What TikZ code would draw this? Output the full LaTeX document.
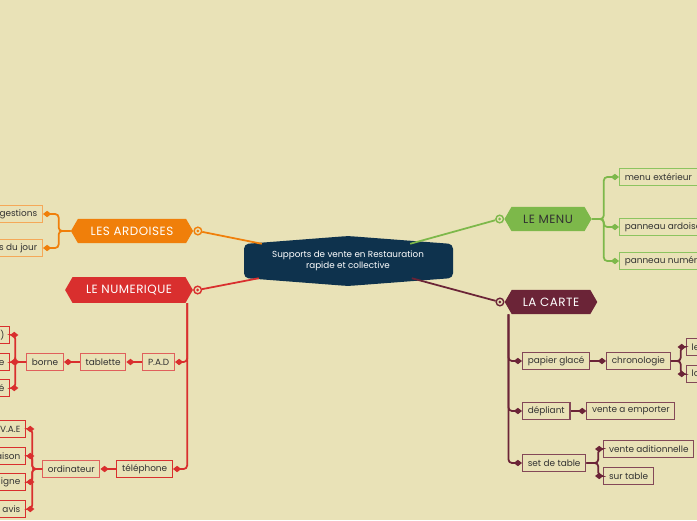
\documentclass[tikz,border=0pt]{standalone}
\usepackage{fontspec}
\setmainfont{Poppins}
\usetikzlibrary{positioning,arrows.meta,shapes.symbols,calc}

\definecolor{paper}{RGB}{233,226,183}
\definecolor{ink}{RGB}{50,50,50}
\definecolor{navy}{RGB}{14,50,77}
\definecolor{orangeA}{RGB}{240,127,10}
\definecolor{orangeL}{RGB}{245,168,88}
\definecolor{redA}{RGB}{217,47,46}
\definecolor{redL}{RGB}{224,96,92}
\definecolor{greenA}{RGB}{125,184,74}
\definecolor{greenL}{RGB}{140,196,96}
\definecolor{maroon}{RGB}{107,36,55}
\definecolor{maroonL}{RGB}{132,72,88}

\begin{document}
\begin{tikzpicture}[x=0.03cm, y=-0.03cm, node distance=13.5pt,
  main/.style={signal, signal to=east and west, signal pointer angle=120, fill=#1,
    minimum height=20.5pt, inner xsep=11pt, inner ysep=0pt, text=white,
    font=\fontsize{10.2}{12}\selectfont\addfontfeature{LetterSpace=4}},
  leaf/.style={draw=#1, line width=0.9pt, fill=paper, minimum height=15pt,
    inner xsep=4.5pt, inner ysep=0pt, text=ink, font=\fontsize{7.6}{9}\selectfont},
  ring/.style={circle, draw=#1, line width=1.2pt, fill=paper, minimum size=6.5pt, inner sep=0pt,
    path picture={\fill[#1] (path picture bounding box.center) circle (1.3pt);}},
  link/.style={draw=#1, line width=1.5pt, rounded corners=3pt},
  leg/.style={link=#1, -{Diamond[length=7pt,width=5.5pt]}}
]
\useasboundingbox (0,0) rectangle (697,520);
\fill[paper] (0,0) rectangle (697,520);

% centre
\fill[navy, rounded corners=4pt] (244,244) -- (348,236) -- (453,244) -- (453,278)
  -- (348,286) -- (244,278) -- cycle;
\node[align=center, text=white, font=\fontsize{7.5}{9.4}\selectfont,
  minimum width=178pt, minimum height=29pt] (root) at (348,261)
  {Supports de vente en Restauration\\rapide et collective};

% les ardoises
\node[main=orangeA] (ardo) at (132,231) {LES ARDOISES};
\node[ring=orangeA, right=0pt of ardo] (ardoring) {};
\node[leaf=orangeL, anchor=east] (sugg) at (43,214) {suggestions};
\node[leaf=orangeL, anchor=east] (plats) at (43,248) {plats du jour};

% le numerique
\node[main=redA, minimum height=22pt, inner xsep=11.5pt] (num) at (129,290) {LE NUMERIQUE};
\node[ring=redA, right=0pt of num] (numring) {};
\node[leaf=redL, anchor=east] (pad) at (175,362) {P.A.D};
\node[leaf=redL, left=of pad] (tab) {tablette};
\node[leaf=redL, left=of tab] (borne) {borne};
\node[leaf=redA, anchor=east] (qr) at ($(borne.west)+(-16,-27)$) {(QR CODE)};
\node[leaf=redA, anchor=east] (cmd) at ($(borne.west)+(-16,0)$) {commande};
\node[leaf=redA, anchor=east] (fid) at ($(borne.west)+(-16,26)$) {carte de fidélité};
\node[leaf=redA, anchor=east] (tel) at (173,469) {téléphone};
\node[leaf=redL, left=of tel] (ordi) {ordinateur};
\node[leaf=redA, anchor=east] (vae) at ($(ordi.west)+(-16,-40)$) {commande V.A.E};
\node[leaf=redA, anchor=east] (livr) at ($(ordi.west)+(-16,-13)$) {livraison};
\node[leaf=redA, anchor=east] (enligne) at ($(ordi.west)+(-16,13)$) {commande en ligne};
\node[leaf=redA, anchor=east] (avis) at ($(ordi.west)+(-16,40)$) {donner son avis};

% le menu
\node[main=greenA, text=ink, inner xsep=10pt] (menu) at (548,219) {LE MENU};
\node[ring=greenA, left=0pt of menu] (menuring) {};
\node[leaf=greenL, anchor=west] (mext) at (619,177) {menu extérieur};
\node[leaf=greenL, anchor=west] (mard) at (619,227) {panneau ardoise};
\node[leaf=greenL, anchor=west] (mnum) at (619,261) {panneau numérique};

% la carte
\node[main=maroon, inner xsep=9.5pt] (carte) at (551,302) {LA CARTE};
\node[ring=maroon, left=0pt of carte] (carering) {};
\node[leaf=maroonL, anchor=west] (papier) at (522,361) {papier glacé};
\node[leaf=maroonL, right=of papier] (chrono) {chronologie};
\node[leaf=maroonL, anchor=west] (lect) at ($(chrono.east)+(15,-14)$) {lecture};
\node[leaf=maroonL, anchor=west] (logi) at ($(chrono.east)+(15,13)$) {logique};
\node[leaf=maroonL, anchor=west] (depl) at (522,411) {dépliant};
\node[leaf=maroonL, right=of depl] (vemp) {vente a emporter};
\node[leaf=maroonL, anchor=west] (settab) at (522,463) {set de table};
\node[leaf=maroonL, anchor=west] (vadd) at ($(settab.east)+(17,-14)$) {vente aditionnelle};
\node[leaf=maroonL, anchor=west] (surt) at ($(settab.east)+(17,13)$) {sur table};

% liens
\draw[link=orangeA] (ardoring) -- (root);
\draw[link=redA] (numring) -- (root);
\draw[link=greenA] (menuring) -- (root);
\draw[link=maroon] (carering) -- (root);

\foreach \n in {sugg,plats} \draw[leg=orangeA] (ardo.west) -- ++(-12,0) |- (\n.east);

\foreach \n in {pad,tel} \draw[leg=redA] ($(num.east |- num.south)+(-6,0)$) |- (\n.east);
\draw[leg=redA] (pad.west) -- (tab.east);
\draw[leg=redA] (tab.west) -- (borne.east);
\foreach \n in {qr,cmd,fid} \draw[leg=redA] (borne.west) -- ++(-11,0) |- (\n.east);
\draw[leg=redA] (tel.west) -- (ordi.east);
\foreach \n in {vae,livr,enligne,avis} \draw[leg=redA] (ordi.west) -- ++(-10,0) |- (\n.east);

\foreach \n in {mext,mard,mnum} \draw[leg=greenA] (menu.east) -- ++(12,0) |- (\n.west);

\foreach \n in {papier,depl,settab} \draw[leg=maroon] ($(carte.west |- carte.south)+(4,0)$) |- (\n.west);
\draw[leg=maroon] (papier.east) -- (chrono.west);
\foreach \n in {lect,logi} \draw[leg=maroon] (chrono.east) -- ++(10,0) |- (\n.west);
\draw[leg=maroon] (depl.east) -- (vemp.west);
\foreach \n in {vadd,surt} \draw[leg=maroon] (settab.east) -- ++(12,0) |- (\n.west);
\end{tikzpicture}
\end{document}
